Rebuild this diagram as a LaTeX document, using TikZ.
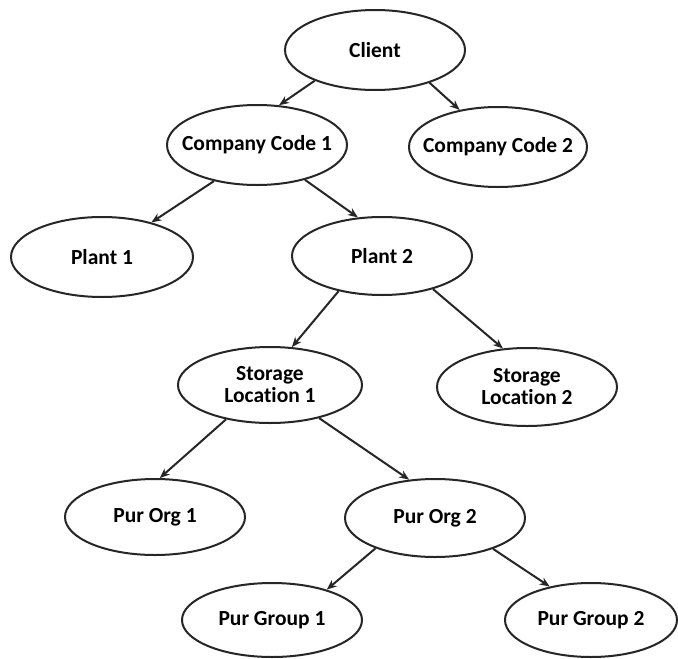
\documentclass[tikz,border=0pt]{standalone}
\usepackage{fontspec}
\setmainfont[Ligatures={TeX,NoCommon}]{Carlito}
\usetikzlibrary{shapes.geometric,arrows.meta}
\begin{document}
\begin{tikzpicture}[x=1pt,y=-1pt,
  oval/.style={ellipse,draw=black!85,line width=2pt,inner xsep=-25pt,inner ysep=0pt,align=center,
    font=\fontsize{21.5}{22}\selectfont\bfseries},
  link/.style={draw=black!85,-{Stealth[length=10pt,width=8pt]},line width=2pt}]
\useasboundingbox[fill=white] (0,0) rectangle (678,659);
\node[oval,minimum width=180pt,minimum height=80pt] (cl)  at (375,50)  {Client};
\node[oval,minimum width=180pt,minimum height=80pt] (cc1) at (257,145) {Company Code 1};
\node[oval,minimum width=178pt,minimum height=80pt] (cc2) at (498,147) {Company Code 2};
\node[oval,minimum width=182pt,minimum height=80pt] (p1)  at (102,257) {Plant 1};
\node[oval,minimum width=180pt,minimum height=78pt] (p2)  at (382,256) {Plant 2};
\node[oval,minimum width=184pt,minimum height=76pt] (sl1) at (270,385) {Storage\\Locat\kern0pt ion 1};
\node[oval,minimum width=180pt,minimum height=78pt] (sl2) at (527,387) {Storage\\Locat\kern0pt ion 2};
\node[oval,minimum width=180pt,minimum height=76pt] (po1) at (155,517) {Pur Org 1};
\node[oval,minimum width=180pt,minimum height=78pt] (po2) at (435,518) {Pur Org 2};
\node[oval,minimum width=180pt,minimum height=74pt] (pg1) at (272,620) {Pur Group 1};
\node[oval,minimum width=172pt,minimum height=74pt] (pg2) at (591,620) {Pur Group 2};
\draw[link] (cl.207) -- (cc1.61);
\draw[link] (cl.329) -- (cc2.136);
\draw[link] (cc1.220) -- (p1.35);
\draw[link] (cc1.324) -- (p2.122);
\draw[link] (p2.219) -- (sl1.60);
\draw[link] (p2.327) -- (sl2.122);
\draw[link] (sl1.218) -- (po1.83);
\draw[link] (sl1.326) -- (po2.124);
\draw[link] (po2.207) -- (pg1.29);
\draw[link] (po2.332) -- (pg2.141);
\end{tikzpicture}
\end{document}
